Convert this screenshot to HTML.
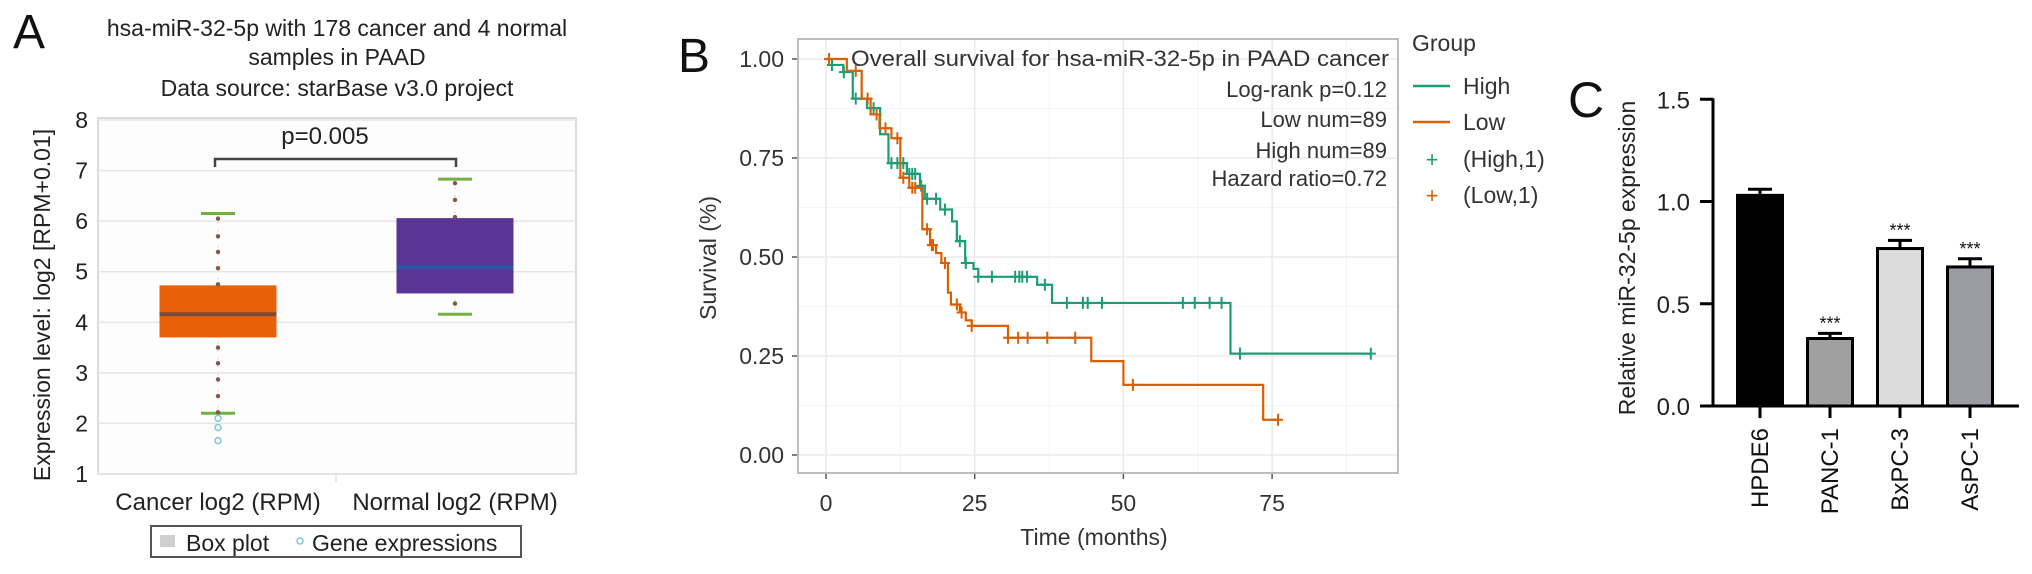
<!DOCTYPE html>
<html><head><meta charset="utf-8">
<style>
html,body{margin:0;padding:0;background:#fff;}
svg{display:block;font-family:"Liberation Sans",Arial,sans-serif;}
</style></head>
<body>
<svg id="fig" width="2032" height="574" viewBox="0 0 2032 574" xmlns="http://www.w3.org/2000/svg">
  <!-- Panel A static -->
  <g>
    <text x="13" y="48" font-size="48" fill="#111">A</text>
    <g font-size="23" fill="#222" text-anchor="middle">
      <text x="337" y="36">hsa-miR-32-5p with 178 cancer and 4 normal</text>
      <text x="337" y="65">samples in PAAD</text>
      <text x="337" y="96">Data source: starBase v3.0 project</text>
    </g>
    <rect x="98" y="118" width="478" height="356" fill="#fdfdfd" stroke="#dcdcdc" stroke-width="2"/>
    <g id="a-grid"></g>
    <g id="a-marks"></g>
    <text transform="translate(50,305) rotate(-90)" font-size="23" fill="#222" text-anchor="middle">Expression level: log2 [RPM+0.01]</text>
    <g>
      <rect x="151" y="526" width="370" height="31" fill="#fff" stroke="#555" stroke-width="2"/>
      <rect x="160" y="535" width="15" height="12" fill="#cfcfcf"/>
      <text x="186" y="551" font-size="23" fill="#222">Box plot</text>
      <circle cx="300" cy="541" r="3" fill="none" stroke="#7cc8d8" stroke-width="1.5"/>
      <text x="312" y="551" font-size="23" fill="#222">Gene expressions</text>
    </g>
  </g>
  <!-- Panel B -->
  <g>
    <text x="678" y="72" font-size="48" fill="#111">B</text>
    <rect x="798" y="39" width="600" height="434" fill="#fff"/>
    <g id="b-grid"></g>
    <g id="b-marks"></g>
    <rect x="798" y="39" width="600" height="434" fill="none" stroke="#bdbdbd" stroke-width="2"/>
    <text x="851" y="66" font-size="22" fill="#333" textLength="538" lengthAdjust="spacingAndGlyphs">Overall survival for hsa-miR-32-5p in PAAD cancer</text>
    <g font-size="22" fill="#333" text-anchor="end">
      <text x="1387" y="97">Log-rank p=0.12</text>
      <text x="1387" y="127">Low num=89</text>
      <text x="1387" y="158">High num=89</text>
      <text x="1387" y="186">Hazard ratio=0.72</text>
    </g>
    <text transform="translate(716,258) rotate(-90)" font-size="23" fill="#333" text-anchor="middle">Survival (%)</text>
    <text x="1094" y="545" font-size="23" fill="#333" text-anchor="middle">Time (months)</text>
    <g font-size="23" fill="#333">
      <text x="1412" y="51">Group</text>
      <line x1="1413" y1="86" x2="1450" y2="86" stroke="#1b9e77" stroke-width="2.5"/>
      <text x="1463" y="94">High</text>
      <line x1="1413" y1="122" x2="1450" y2="122" stroke="#d95f02" stroke-width="2.5"/>
      <text x="1463" y="130">Low</text>
      <text x="1432" y="167" fill="#1b9e77" text-anchor="middle" font-size="22">+</text>
      <text x="1463" y="167">(High,1)</text>
      <text x="1432" y="203" fill="#d95f02" text-anchor="middle" font-size="22">+</text>
      <text x="1463" y="203">(Low,1)</text>
    </g>
  </g>
  <!-- Panel C -->
  <g>
    <text x="1568" y="117" font-size="50" fill="#111">C</text>
    <text transform="translate(1635,258) rotate(-90)" font-size="23" fill="#222" text-anchor="middle">Relative miR-32-5p expression</text>
    <g id="c-marks"></g>
  </g>

<script>
// ---------- Panel A data ----------
var aCategories = ["Cancer log2 (RPM)", "Normal log2 (RPM)"];
var aQ1 = [3.70, 4.57];
var aMedian = [4.16, 5.09];
var aQ3 = [4.73, 6.06];
var aWhiskerLow = [2.2, 4.16];
var aWhiskerHigh = [6.15, 6.83];
var aCancerDots = [6.05, 5.7, 5.39, 5.07, 4.75, 3.5, 3.19, 2.87, 2.54, 2.22];
var aNormalDots = [6.75, 6.42, 6.08, 4.37];
var aOutliers = [2.1, 1.92, 1.66];
var aTicks = [1, 2, 3, 4, 5, 6, 7, 8];
var aPText = "p=0.005";

// ---------- Panel B data ----------
var highStepT = [0, 1, 2.9, 4.5, 6.9, 9.1, 10.5, 13.6, 15.8, 16.6, 19.2, 21.2, 22, 23.4, 24.8, 25.6, 35.5, 38, 68];
var highStepS = [1, 0.985, 0.967, 0.9, 0.876, 0.81, 0.737, 0.71, 0.68, 0.647, 0.62, 0.59, 0.54, 0.485, 0.47, 0.45, 0.43, 0.384, 0.256];
var highEnd = 91.6;
var highCensor = [1, 3, 5, 8, 11, 12, 13, 14, 14.5, 15, 16, 17, 18.5, 20, 22.5, 23.5, 25.6, 27.9, 31.8, 32.5, 33, 33.8, 36.8, 40.5, 43.2, 44, 46.4, 60, 62, 64.5, 66.5, 69.6, 91.6];
var lowStepT = [0, 3.5, 6, 7.5, 9, 11, 12.5, 14, 16.2, 17.5, 18.5, 19.4, 20.5, 21, 22.5, 23.5, 24.5, 30.6, 44.6, 50, 73.5];
var lowStepS = [1, 0.97, 0.9, 0.86, 0.825, 0.8, 0.7, 0.675, 0.57, 0.53, 0.51, 0.485, 0.41, 0.38, 0.36, 0.34, 0.326, 0.296, 0.237, 0.177, 0.089];
var lowEnd = 76;
var lowCensor = [0.5, 5, 7, 8.5, 10, 12, 13, 14.5, 15, 17, 17.8, 18, 20, 22, 22.8, 24.5, 30.6, 32.3, 33.9, 37.2, 41.9, 51.6, 76];
var bXTicks = [0, 25, 50, 75];
var bYTicks = [0, 0.25, 0.5, 0.75, 1];
var bYTickLabels = ["0.00", "0.25", "0.50", "0.75", "1.00"];

// ---------- Panel C data ----------
var cCategories = ["HPDE6", "PANC-1", "BxPC-3", "AsPC-1"];
var cValues = [1.03, 0.33, 0.77, 0.68];
var cErrors = [0.03, 0.025, 0.04, 0.04];
var cSignif = ["", "***", "***", "***"];
var cYTicks = [0, 0.5, 1, 1.5];
var cYTickLabels = ["0.0", "0.5", "1.0", "1.5"];

var NS = "http://www.w3.org/2000/svg";
function mk(tag, attrs, parent) {
  var e = document.createElementNS(NS, tag);
  for (var k in attrs) e.setAttribute(k, attrs[k]);
  parent.appendChild(e);
  return e;
}

// ===== Panel A =====
(function(){
  var ay = function(v){ return 120 + (8 - v) * 50.57; };
  var ax = function(i){ return 218 + i * 237; };
  var grid = document.getElementById('a-grid');
  var marks = document.getElementById('a-marks');
  aTicks.forEach(function(t){
    var gl = mk('line', {x1:98, x2:576, y1:ay(t), y2:ay(t), stroke:'#e6e6e6', 'stroke-width':1.5}, grid);
    
    
    var tl = mk('text', {x:88, y:ay(t)+8, 'font-size':23, fill:'#222', 'text-anchor':'end'}, grid);
    tl.textContent = t;
    
    
  });
  var div = mk('line', {x1:336, x2:336, y1:474, y2:482, stroke:'#e0e0e0', 'stroke-width':1.5}, grid);
  
  
  var boxFill = ['#e8600a', '#5b3595'];
  var medColor = ['#7d4a35', '#2f55a8'];
  var hw = 58.5;
  aCategories.forEach(function(c, i){
    var cx = ax(i);
    var whisk = mk('line', {x1:cx, x2:cx, y1:ay(aWhiskerHigh[i]), y2:ay(aWhiskerLow[i]), stroke:'#f0c8a8', 'stroke-width':1, 'stroke-dasharray':'2 6'}, marks);
    
    
    var box = mk('rect', {x:cx-hw, y:ay(aQ3[i]), width:2*hw, height:ay(aQ1[i])-ay(aQ3[i]), fill:boxFill[i]}, marks);
    
    
    var med = mk('line', {x1:cx-hw, x2:cx+hw, y1:ay(aMedian[i]), y2:ay(aMedian[i]), stroke:medColor[i], 'stroke-width':4}, marks);
    
    
    [aWhiskerHigh[i], aWhiskerLow[i]].forEach(function(v){
      var cap = mk('line', {x1:cx-17, x2:cx+17, y1:ay(v), y2:ay(v), stroke:'#72b043', 'stroke-width':3}, marks);
      
      
    });
    var lab = mk('text', {x:cx, y:510, 'font-size':24, fill:'#222', 'text-anchor':'middle'}, marks);
    lab.textContent = c;
    
    
  });
  aCancerDots.forEach(function(v){
    var d = mk('circle', {cx:ax(0), cy:ay(v), r:2.2, fill:'#7a5a4a'}, marks);
    
    
  });
  aNormalDots.forEach(function(v){
    var d = mk('circle', {cx:ax(1), cy:ay(v), r:2.2, fill:'#7a5a4a'}, marks);
    
    
  });
  aOutliers.forEach(function(v){
    var d = mk('circle', {cx:ax(0), cy:ay(v), r:3, fill:'none', stroke:'#7cc8d8', 'stroke-width':1.5}, marks);
    
    
  });
  var by = 159;
  var br = mk('path', {d:'M'+(ax(0)-3)+' 167 V'+by+' H'+(ax(1)+1)+' V167', fill:'none', stroke:'#444', 'stroke-width':2.5}, marks);
  
  
  var pt = mk('text', {x:325, y:144, 'font-size':24, fill:'#222', 'text-anchor':'middle'}, marks);
  pt.textContent = aPText;
  
  
})();

// ===== Panel B =====
(function(){
  var bx = function(t){ return 826 + t * 5.948; };
  var by = function(s){ return 59 + (1 - s) * 396; };
  var grid = document.getElementById('b-grid');
  var marks = document.getElementById('b-marks');
  [12.5, 37.5, 62.5, 87.5].forEach(function(t){
    var l = mk('line', {x1:bx(t), x2:bx(t), y1:39, y2:473, stroke:'#f4f4f4', 'stroke-width':1}, grid);
    
    
  });
  [0.125, 0.375, 0.625, 0.875].forEach(function(s){
    var l = mk('line', {x1:798, x2:1398, y1:by(s), y2:by(s), stroke:'#f4f4f4', 'stroke-width':1}, grid);
    
    
  });
  bXTicks.forEach(function(t){
    var l = mk('line', {x1:bx(t), x2:bx(t), y1:39, y2:473, stroke:'#ebebeb', 'stroke-width':1.5}, grid);
    
    
    var tk = mk('line', {x1:bx(t), x2:bx(t), y1:473, y2:479, stroke:'#555', 'stroke-width':1.5}, grid);
    
    
    var tl = mk('text', {x:bx(t), y:511, 'font-size':23, fill:'#333', 'text-anchor':'middle'}, grid);
    tl.textContent = t;
    
    
  });
  bYTicks.forEach(function(s, i){
    var l = mk('line', {x1:798, x2:1398, y1:by(s), y2:by(s), stroke:'#ebebeb', 'stroke-width':1.5}, grid);
    
    
    var tk = mk('line', {x1:792, x2:798, y1:by(s), y2:by(s), stroke:'#555', 'stroke-width':1.5}, grid);
    
    
    var tl = mk('text', {x:784, y:by(s)+8, 'font-size':23, fill:'#333', 'text-anchor':'end'}, grid);
    tl.textContent = bYTickLabels[i];
    
    
  });
  function stepPath(T, S, end){
    var d = 'M' + bx(T[0]) + ' ' + by(S[0]);
    for (var i = 1; i < T.length; i++) {
      d += ' H' + bx(T[i]) + ' V' + by(S[i]);
    }
    d += ' H' + bx(end);
    return d;
  }
  function survAt(T, S, t){
    var s = S[0];
    for (var i = 0; i < T.length; i++) { if (T[i] <= t) s = S[i]; }
    return s;
  }
  var series = [
    {T:highStepT, S:highStepS, end:highEnd, c:highCensor, col:'#1b9e77', name:'high'},
    {T:lowStepT, S:lowStepS, end:lowEnd, c:lowCensor, col:'#d95f02', name:'low'}
  ];
  series.forEach(function(sr){
    var p = mk('path', {d:stepPath(sr.T, sr.S, sr.end), fill:'none', stroke:sr.col, 'stroke-width':2.2}, marks);
    
    
    sr.c.forEach(function(t){
      var x = bx(t), y = by(survAt(sr.T, sr.S, t));
      var m = mk('path', {d:'M'+(x-5)+' '+y+' H'+(x+5)+' M'+x+' '+(y-6)+' V'+(y+6), stroke:sr.col, 'stroke-width':2}, marks);
      
      
    });
  });
})();

// ===== Panel C =====
(function(){
  var cy = function(v){ return 406 - v * 204.5; };
  var cx = function(i){ return 1760 + i * 70; };
  var g = document.getElementById('c-marks');
  var fills = ['#000000', '#a0a0a0', '#dcdcdc', '#9b9ba3'];
  var hw = 22.5;
  cValues.forEach(function(v, i){
    var x = cx(i);
    var eb = mk('path', {d:'M'+x+' '+cy(v)+' V'+cy(v+cErrors[i])+' M'+(x-12)+' '+cy(v+cErrors[i])+' H'+(x+12), stroke:'#000', 'stroke-width':3, fill:'none'}, g);
    
    
    var b = mk('rect', {x:x-hw, y:cy(v), width:2*hw, height:cy(0)-cy(v), fill:fills[i], stroke:'#000', 'stroke-width':3}, g);
    
    
    if (cSignif[i]) {
      var st = mk('text', {x:x, y:cy(v+cErrors[i])-4, 'font-size':18, fill:'#111', 'text-anchor':'middle'}, g);
      st.textContent = cSignif[i];
      
      
    }
    var tk = mk('line', {x1:x, x2:x, y1:406, y2:418, stroke:'#000', 'stroke-width':3}, g);
    
    
    var lab = mk('text', {transform:'translate('+(x+8)+',428) rotate(-90)', 'font-size':24, fill:'#111', 'text-anchor':'end'}, g);
    lab.textContent = cCategories[i];
    
    
  });
  var yaxis = mk('line', {x1:1713, x2:1713, y1:cy(1.5)-1, y2:cy(0)+1.5, stroke:'#000', 'stroke-width':3}, g);
  
  
  var xaxis = mk('line', {x1:1700, x2:2019, y1:406, y2:406, stroke:'#000', 'stroke-width':3}, g);
  
  
  cYTicks.forEach(function(v, i){
    var tk = mk('line', {x1:1700, x2:1713, y1:cy(v), y2:cy(v), stroke:'#000', 'stroke-width':3}, g);
    
    
    var tl = mk('text', {x:1690, y:cy(v)+9, 'font-size':24, fill:'#222', 'text-anchor':'end'}, g);
    tl.textContent = cYTickLabels[i];
    
    
  });
})();
</script>
</svg>
</body></html>
